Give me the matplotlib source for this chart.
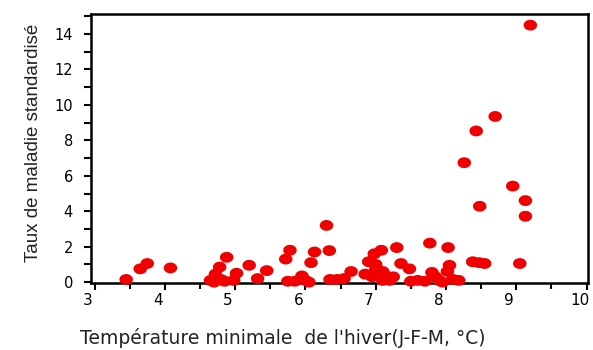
import numpy as np
import matplotlib
matplotlib.use('Agg')
import matplotlib.pyplot as plt
from matplotlib.path import Path
from matplotlib.ticker import MultipleLocator
from matplotlib.transforms import ScaledTranslation

# Winter minimum temperature (Jan-Feb-Mar, degC) vs standardized disease rate
temp_min = [3.45, 3.65, 3.75, 4.08,
            4.65, 4.70, 4.72, 4.78, 4.80, 4.85, 4.88, 4.98, 5.02, 5.20, 5.32, 5.45,
            5.72, 5.75, 5.78, 5.85, 5.95, 6.00, 6.05, 6.08, 6.13, 6.30, 6.34,
            6.35, 6.45, 6.55, 6.65,
            6.85, 6.90, 6.95, 6.98, 7.00, 7.00, 7.05, 7.08, 7.10, 7.10, 7.15, 7.20,
            7.25, 7.30, 7.36, 7.48,
            7.50, 7.60, 7.70, 7.77, 7.80, 7.85, 7.90, 7.95, 8.02, 8.03, 8.05, 8.10, 8.18,
            8.26, 8.38, 8.43, 8.47, 8.48, 8.55, 8.70, 8.95, 9.05, 9.13, 9.13, 9.20]
disease_rate = [0.15, 0.75, 1.05, 0.80,
                0.10, 0.00, 0.45, 0.85, 0.15, 0.05, 1.40, 0.10, 0.50, 0.95, 0.20, 0.65,
                1.30, 0.05, 1.80, 0.05, 0.35, 0.10, 0.00, 1.10, 1.70, 3.20, 1.78,
                0.15, 0.15, 0.20, 0.60,
                0.45, 1.15, 0.30, 1.60, 0.70, 1.00, 0.40, 1.80, 0.10, 0.60, 0.35, 0.10,
                0.30, 1.95, 1.05, 0.75,
                0.05, 0.10, 0.05, 2.20, 0.55, 0.30, 0.10, 0.00, 0.60, 1.95, 0.95, 0.15, 0.10,
                6.74, 1.15, 8.53, 1.10, 4.28, 1.05, 9.35, 5.42, 1.05, 4.60, 3.72, 14.50]

x_ticks = [3, 4, 5, 6, 7, 8, 9, 10]
y_ticks = [0, 2, 4, 6, 8, 10, 12, 14]

# slightly flattened dot
t = np.linspace(0, 2 * np.pi, 40)
dot = Path(np.column_stack([np.cos(t), 0.8 * np.sin(t)]), closed=True)

fig = plt.figure(figsize=(5.93, 3.5), dpi=100)
ax = fig.add_axes([0.1535, 0.1914, 0.838, 0.7686])

ax.scatter(temp_min, disease_rate, s=95, marker=dot, color='#f00000',
           edgecolors='none', zorder=3, clip_on=False)

ax.set_xlim(2.95, 10.02)
ax.set_ylim(-0.05, 15.13)
ax.set_xticks(x_ticks)
ax.set_yticks(y_ticks)
ax.xaxis.set_minor_locator(MultipleLocator(0.5))
ax.yaxis.set_minor_locator(MultipleLocator(1))

for sp in ax.spines.values():
    sp.set_linewidth(1.8)
    sp.set_color('black')

ax.tick_params(which='both', direction='out', width=1.5, color='black')
ax.tick_params(axis='x', which='major', length=5, pad=2, labelsize=11)
ax.tick_params(axis='x', which='minor', length=4)
ax.tick_params(axis='y', which='major', length=5, pad=8, labelsize=10.5)
ax.tick_params(axis='y', which='minor', length=5)

# x labels sit a little left of their ticks
shift = ScaledTranslation(-7 / 100, 0, fig.dpi_scale_trans)
for lbl in ax.get_xticklabels():
    lbl.set_transform(lbl.get_transform() + shift)

fig.text(0.476, 0.035, "Température minimale  de l'hiver(J-F-M, °C)",
         ha='center', va='center', fontsize=13.5, color='#222222')
fig.text(0.056, 0.593, 'Taux de maladie standardisé', rotation=90,
         ha='center', va='center', fontsize=13.5, color='#222222',
         family=['Liberation Sans', 'DejaVu Sans'])

fig.savefig('out.png', dpi=100)
